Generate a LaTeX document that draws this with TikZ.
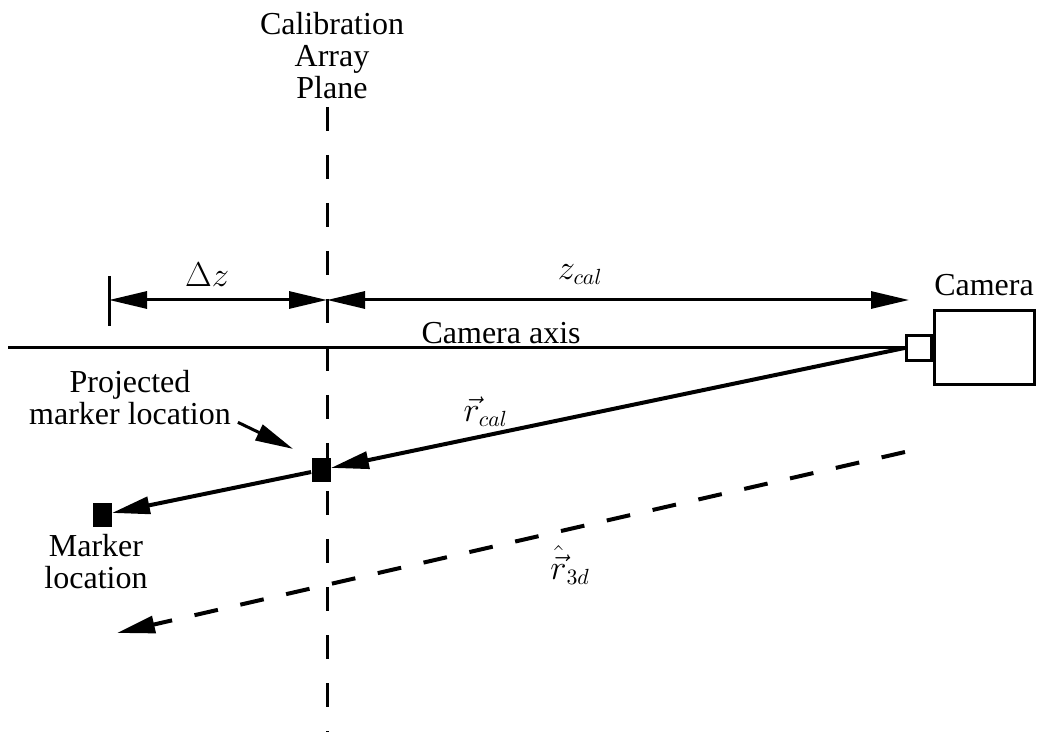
\documentclass[tikz,border=0pt]{standalone}
\usepackage{fontspec}
\setmainfont{Liberation Serif}
\usetikzlibrary{arrows.meta,positioning}

\begin{document}
\begin{tikzpicture}[
  x=0.5pt, y=-0.5pt,
  every node/.style={font=\fontsize{16}{16}\selectfont},
  thickline/.style={line width=1.5pt},
  arrow/.style={line width=1.5pt,-{Triangle[length=19pt,width=8.5pt]}},
  dimarrow/.style={line width=1.5pt,{Triangle[length=19pt,width=8.5pt]}-{Triangle[length=19pt,width=8.5pt]}},
  markersq/.style={fill=black,minimum width=9.5pt,minimum height=12pt,inner sep=0pt},
  plane/.style={line width=1.5pt,dash pattern=on 12pt off 12pt},
  raydash/.style={line width=2pt,dash pattern=on 12pt off 11.5pt}
]
\useasboundingbox (0,0) rectangle (1039,732);

\node[draw,thickline,minimum width=50pt,minimum height=37pt,inner sep=0pt] (camera) at (984,348) {};
\node[draw,thickline,minimum width=12.5pt,minimum height=12.5pt,inner sep=0pt,anchor=east] (lens) at (camera.west) {};
\node[above=3.5pt of camera] (camtext) {Camera};

\coordinate (planetop) at (327,107);
\coordinate (planebot) at (327,732);
\node[align=center,anchor=south] (planetext) at (332,106) {Calibration\\Array\\Plane};
\draw[plane] (planetop) -- (planebot);

\coordinate (axisend) at (8,348);
\draw[thickline] (axisend) -- node[pos=0.55,above=-2pt] (axistext) {Camera axis} (lens.west);

\coordinate (ticktop) at (109,276);
\coordinate (tickbot) at (109,326);
\coordinate (dzleft) at (109,300);
\coordinate (dzmid) at (327,300);
\coordinate (zright) at (909,300);
\draw[thickline] (ticktop) -- (tickbot);
\draw[dimarrow] (dzleft) -- node[pos=0.45,above=2.5pt] (dztext) {$\Delta z$} (dzmid);
\draw[dimarrow] (dzmid) -- node[pos=0.435,above=3.5pt] (zcaltext) {$z_{cal}$} (zright);

\node[markersq] (projmark) at (321,470) {};
\node[markersq] (marker) at (102,515) {};
\draw[arrow,line width=2pt] (lens.west) -- node[pos=0.73,above] (rcaltext) {$\vec{r}_{cal}$} (projmark);
\draw[arrow,line width=2pt] (projmark) -- (marker);

\node[align=center] (projtext) at (130,398) {Projected\\marker location};
\draw[arrow,shorten >=10pt] ([yshift=5pt]projtext.south east) -- (projmark.north west);

\node[below=0pt of marker,xshift=-3pt,align=center] (markertext) {Marker\\location};

\coordinate (raystart) at (905,452);
\coordinate (rayend) at (117,633);
\draw[arrow,raydash] (raystart) -- node[pos=0.425,below=4pt] (r3dtext) {$\hat{\vec{r}}_{3d}$} (rayend);
\end{tikzpicture}
\end{document}
